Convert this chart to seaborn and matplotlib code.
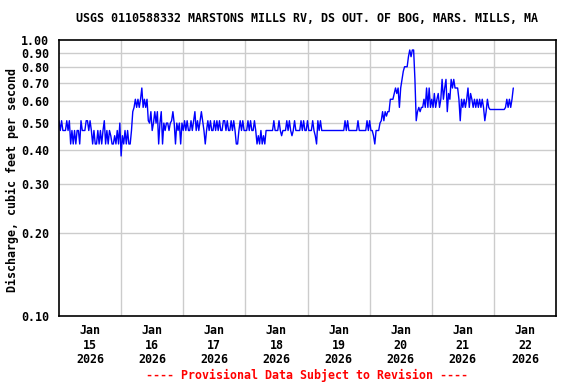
import matplotlib
matplotlib.use("Agg")
import matplotlib.pyplot as plt
from matplotlib.ticker import FixedLocator, NullLocator
import seaborn as sns
import pandas as pd

# Discharge (cfs), half-hour readings starting Jan 15 2026 00:00
jan15 = [0.51, 0.47, 0.51, 0.47, 0.47, 0.47, 0.51, 0.47, 0.51,
         0.42, 0.47, 0.42, 0.47, 0.42, 0.47, 0.47, 0.42,
         0.51, 0.47, 0.47, 0.47, 0.51, 0.51, 0.47, 0.51,
         0.47, 0.42, 0.47, 0.42, 0.42, 0.47, 0.42, 0.47,
         0.42, 0.47, 0.51, 0.42, 0.47, 0.42, 0.47, 0.45,
         0.42, 0.42, 0.45, 0.42, 0.47, 0.42, 0.50]
jan16 = [0.38, 0.45, 0.42, 0.47, 0.42, 0.47, 0.42, 0.42, 0.47,
         0.55, 0.57, 0.61, 0.57, 0.61, 0.57, 0.61, 0.67, 0.57, 0.61, 0.57, 0.61,
         0.51, 0.50, 0.55, 0.47, 0.50, 0.55, 0.50, 0.55, 0.42, 0.50,
         0.55, 0.42, 0.50, 0.47, 0.50, 0.50, 0.47, 0.50, 0.51, 0.55,
         0.50, 0.42, 0.50, 0.47, 0.50, 0.42, 0.50]
jan17 = [0.47, 0.51, 0.47, 0.51, 0.47, 0.47, 0.51, 0.47, 0.51,
         0.55, 0.47, 0.51, 0.47, 0.51, 0.55, 0.51, 0.47, 0.42,
         0.47, 0.51, 0.47, 0.51, 0.47, 0.47, 0.51, 0.47, 0.51, 0.47,
         0.51, 0.47, 0.47, 0.51, 0.51, 0.47, 0.51, 0.47, 0.47, 0.51,
         0.47, 0.51, 0.47, 0.42, 0.42, 0.47, 0.51, 0.47, 0.51, 0.47]
jan18 = [0.47, 0.47, 0.51, 0.47, 0.51, 0.47, 0.47, 0.51, 0.47,
         0.42, 0.45, 0.42, 0.47, 0.42, 0.45, 0.42, 0.47,
         0.47, 0.47, 0.47, 0.47, 0.47, 0.51, 0.47, 0.47, 0.47, 0.51,
         0.47, 0.45, 0.47, 0.47, 0.47, 0.51, 0.47, 0.51, 0.47, 0.45,
         0.47, 0.51, 0.47, 0.47, 0.47, 0.47, 0.51, 0.47, 0.51, 0.47, 0.47]
jan19 = [0.51, 0.47, 0.47, 0.47, 0.51, 0.47, 0.45, 0.42, 0.51, 0.47, 0.51,
         0.47, 0.47, 0.47, 0.47, 0.47, 0.47, 0.47, 0.47, 0.47,
         0.47, 0.47, 0.47, 0.47, 0.47, 0.47, 0.47, 0.47, 0.47,
         0.51, 0.47, 0.51, 0.47, 0.47, 0.47, 0.47, 0.47, 0.47, 0.47,
         0.51, 0.47, 0.47, 0.47, 0.47, 0.47, 0.47, 0.51, 0.47]
jan20 = [0.51, 0.47, 0.47, 0.45, 0.42, 0.47, 0.47, 0.47, 0.50, 0.51,
         0.55, 0.51, 0.55, 0.53, 0.55, 0.55, 0.61, 0.61, 0.61, 0.64,
         0.67, 0.64, 0.67, 0.57, 0.67, 0.72, 0.77, 0.80, 0.80, 0.80,
         0.87, 0.92, 0.87, 0.92, 0.92, 0.72, 0.51, 0.55, 0.57, 0.55,
         0.57, 0.57, 0.61, 0.57, 0.67, 0.57, 0.67, 0.57]
jan21 = [0.61, 0.57, 0.64, 0.57, 0.61, 0.64, 0.57, 0.61, 0.72, 0.61,
         0.67, 0.72, 0.55, 0.64, 0.61, 0.72, 0.67, 0.72, 0.67, 0.67,
         0.67, 0.61, 0.51, 0.61, 0.57, 0.61, 0.57, 0.61, 0.67, 0.57,
         0.64, 0.61, 0.57, 0.61, 0.57, 0.61, 0.57, 0.61, 0.57, 0.61,
         0.57, 0.51, 0.55, 0.61, 0.57, 0.56, 0.56, 0.56]
jan22 = [0.56, 0.56, 0.56, 0.56, 0.56, 0.56, 0.56, 0.56, 0.56,
         0.57, 0.61, 0.57, 0.61, 0.57, 0.61, 0.67]

y_ticks = [0.10, 0.20, 0.30, 0.40, 0.50, 0.60, 0.70, 0.80, 0.90, 1.00]
y_tick_labels = ["0.10", "0.20", "0.30", "0.40", "0.50", "0.60", "0.70", "0.80", "0.90", "1.00"]
day_labels = ["Jan\n15\n2026", "Jan\n16\n2026", "Jan\n17\n2026", "Jan\n18\n2026",
              "Jan\n19\n2026", "Jan\n20\n2026", "Jan\n21\n2026", "Jan\n22\n2026"]

values = jan15 + jan16 + jan17 + jan18 + jan19 + jan20 + jan21 + jan22
times = pd.date_range("2026-01-15 00:00", periods=len(values), freq="30min")
df = pd.DataFrame({"time": times, "discharge": values})

sns.set_style("white")
plt.rcParams["font.family"] = ["DejaVu Sans Mono"]
plt.rcParams["font.weight"] = "bold"
plt.rcParams["text.color"] = "black"
plt.rcParams["xtick.color"] = "black"
plt.rcParams["ytick.color"] = "black"
plt.rcParams["axes.labelcolor"] = "black"

fig = plt.figure(figsize=(5.76, 3.84), dpi=100)
ax = fig.add_axes([59 / 576, 1 - 316 / 384, (556 - 59) / 576, (316 - 40) / 384])

sns.lineplot(data=df, x="time", y="discharge", ax=ax, color="#0000ff", linewidth=1.0)

ax.set_yscale("log")
ax.set_ylim(0.1, 1.0)
ax.yaxis.set_major_locator(FixedLocator(y_ticks))
ax.yaxis.set_minor_locator(NullLocator())
ax.set_yticklabels(y_tick_labels, fontsize=8.4, fontweight="bold", color="black")

start = pd.Timestamp("2026-01-15")
end = pd.Timestamp("2026-01-23")
ax.set_xlim(start, end)
midnights = pd.date_range("2026-01-16", "2026-01-22", freq="D")
noons = pd.date_range("2026-01-15 12:00", periods=8, freq="D")
ax.set_xticks(noons)
ax.set_xticklabels(day_labels, fontsize=8.4, fontweight="bold", linespacing=1.15, color="black")
ax.set_xticks(midnights, minor=True)

ax.grid(False)
for t in midnights:
    ax.axvline(t, color="#cccccc", linewidth=1.0, zorder=0)
for v in y_ticks[1:-1]:
    ax.axhline(v, color="#cccccc", linewidth=1.0, zorder=0)

ax.tick_params(axis="both", which="both", length=0)
ax.tick_params(axis="y", pad=7)
ax.tick_params(axis="x", pad=6)
for s in ax.spines.values():
    s.set_visible(True)
    s.set_color("black")
    s.set_linewidth(1.2)

ax.set_xlabel("")
ax.set_ylabel("")
fig.text(12 / 576, 1 - 180 / 384, "Discharge, cubic feet per second", rotation=90,
         ha="center", va="center", fontsize=8.4, fontweight="bold", color="black")
fig.text(307.5 / 576, 1 - 19 / 384,
         "USGS 0110588332 MARSTONS MILLS RV, DS OUT. OF BOG, MARS. MILLS, MA",
         ha="center", va="center", fontsize=8.4, fontweight="bold", color="black")
fig.text(307.5 / 576, 1 - 375 / 384, "---- Provisional Data Subject to Revision ----",
         ha="center", va="center", fontsize=8.4, fontweight="bold", color="red")

fig.savefig("out.png", dpi=100)
